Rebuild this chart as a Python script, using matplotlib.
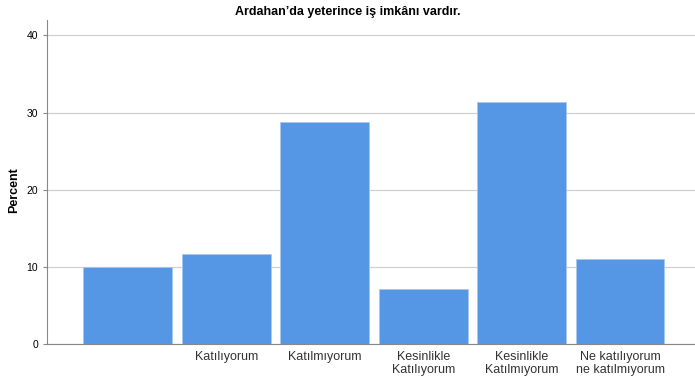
import numpy as np
from matplotlib import pyplot as plt

plt.rcParams['font.family'] = ['Liberation Sans', 'DejaVu Sans']

kategoriler = ["", "Katılıyorum", "Katılmıyorum", "Kesinlikle\nKatılıyorum",
               "Kesinlikle\nKatılmıyorum", "Ne katılıyorum\nne katılmıyorum"]
yuzdeler = [10.0, 11.7, 28.8, 7.1, 31.4, 11.0]

fig = plt.figure(figsize=(6.95, 3.80), dpi=100)
ax = fig.add_axes([47/695, 36/380, 1 - 47/695, 324/380])

x = np.arange(len(kategoriler))
ax.bar(x, yuzdeler, width=0.9, color='#5596e5', edgecolor='#a9c8f0', linewidth=0.6, zorder=3)

ax.set_xlim(-0.82, 5.76)
ax.set_ylim(0, 42)
ax.set_yticks([0, 10, 20, 30, 40])
ax.set_xticks(x)
ax.set_xticklabels(kategoriler, fontsize=9, color='#333333', linespacing=1.1)
ax.tick_params(axis='x', length=0, pad=5)
ax.tick_params(axis='y', length=3, labelsize=7.5, color='#888888', width=0.8)

# Yatay kılavuz çizgileri
ax.grid(axis='y', color='#d0d0d0', linewidth=0.9, zorder=0)

for s in ['top', 'right']:
    ax.spines[s].set_visible(False)
ax.spines['left'].set_color('#888888')
ax.spines['bottom'].set_color('#888888')

fig.text(14/695, 1 - 190/380, "Percent", rotation=90, ha='center', va='center',
         fontsize=9, fontweight='bold')
fig.text(0.5, 1 - 12/380, "Ardahan’da yeterince iş imkânı vardır.", ha='center', va='center',
         fontsize=9, fontweight='bold')

plt.savefig("out.png", dpi=100)
